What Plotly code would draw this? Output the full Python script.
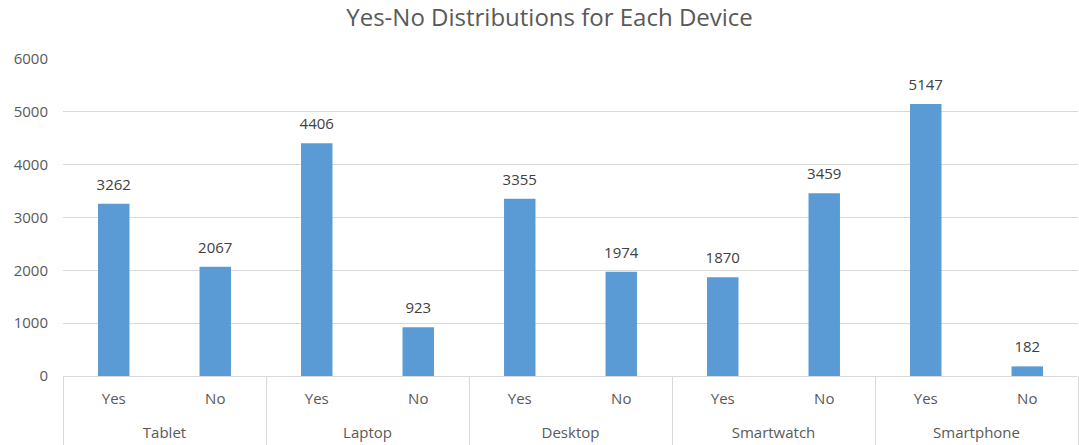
import plotly.graph_objects as go

devices = ["Tablet", "Tablet", "Laptop", "Laptop", "Desktop", "Desktop",
           "Smartwatch", "Smartwatch", "Smartphone", "Smartphone"]
answers = ["Yes", "No"] * 5
counts = [3262, 2067, 4406, 923, 3355, 1974, 1870, 3459, 5147, 182]
y_ticks = [0, 1000, 2000, 3000, 4000, 5000, 6000]

font = "Open Sans"
idx = list(range(len(answers)))
groups = list(dict.fromkeys(devices))
group_centers = [sum(i for i in idx if devices[i] == g) / devices.count(g) for g in groups]
bounds = [-0.5] + [i + 0.5 for i in idx if i + 1 == len(idx) or devices[i + 1] != devices[i]]

fig = go.Figure()
fig.add_trace(go.Bar(
    x=idx, y=counts,
    marker=dict(color="#5B9BD5", line=dict(width=0)),
    hoverinfo="skip",
))
fig.add_trace(go.Scatter(
    x=idx, y=counts, mode="markers+text",
    text=[str(v) for v in counts], textposition="top center",
    marker=dict(size=15, color="rgba(0,0,0,0)"),
    textfont=dict(family=font, size=15, color="#404040"),
    hoverinfo="skip",
))
fig.add_trace(go.Scatter(x=group_centers, y=[0] * len(groups), xaxis="x2",
                         mode="markers", marker=dict(opacity=0), hoverinfo="skip"))
xr = [-0.5, len(idx) - 0.5]
fig.update_layout(
    width=1079, height=445,
    margin=dict(l=63, r=1, t=59, b=69, pad=0),
    paper_bgcolor="white", plot_bgcolor="white",
    showlegend=False,
    bargap=0.69,
    title=dict(text="Yes-No Distributions for Each Device", x=0.5093, xanchor="center",
               y=0.96, yanchor="middle",
               font=dict(family=font, size=24, color="#595959")),
    xaxis=dict(range=xr, tickmode="array", tickvals=idx, ticktext=answers,
               showline=True, linecolor="#D9D9D9", linewidth=1, zeroline=False,
               showgrid=False, ticks="", automargin=False, ticklabelstandoff=9,
               tickfont=dict(family=font, size=15, color="#595959"),
               minor=dict(tickmode="array", tickvals=bounds, ticks="outside",
                          ticklen=69, tickcolor="#D9D9D9", tickwidth=1, showgrid=False)),
    xaxis2=dict(range=xr, overlaying="x", side="bottom", anchor="y",
                tickmode="array", tickvals=group_centers, ticktext=groups,
                showline=False, showgrid=False, zeroline=False, ticks="",
                automargin=False, ticklabelstandoff=46,
                tickfont=dict(family=font, size=15, color="#595959")),
    yaxis=dict(range=[0, 6000], tickvals=y_ticks, showgrid=True, gridcolor="#D9D9D9",
               zeroline=False, showline=False, ticks="", automargin=False,
               ticklabelstandoff=14,
               tickfont=dict(family=font, size=15, color="#595959")),
)
fig.write_html("out.html")
